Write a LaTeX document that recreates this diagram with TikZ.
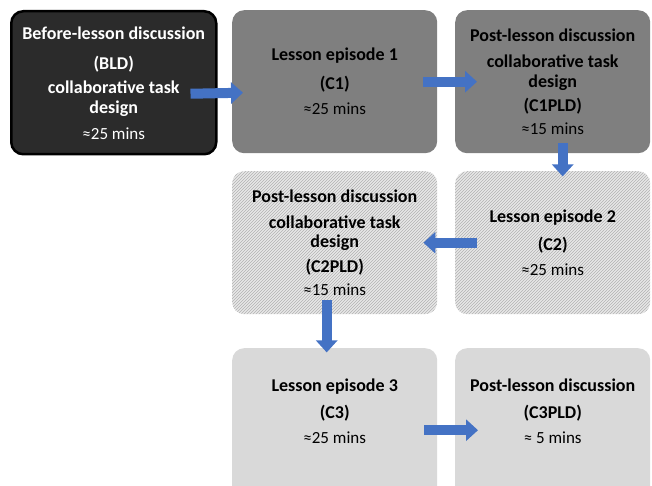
\documentclass[tikz,border=0pt]{standalone}
\usepackage{fontspec}
\setmainfont{Carlito}
\usetikzlibrary{arrows.meta,patterns}

\definecolor{darkbox}{HTML}{2B2B2B}
\definecolor{midbox}{HTML}{7F7F7F}
\definecolor{hatchbg}{HTML}{E8E8E8}
\definecolor{lightbox}{HTML}{D9D9D9}
\definecolor{flowblue}{HTML}{4472C4}

\tikzset{
  stage/.style={rectangle, rounded corners=12pt, minimum width=205pt,
    minimum height=143pt, anchor=north west, align=center, inner sep=0pt,
    font=\fontsize{18}{21}\selectfont\bfseries},
  darkstage/.style={stage, fill=darkbox, draw=black, line width=2.5pt, text=white},
  midstage/.style={stage, fill=midbox},
  hatchstage/.style={stage, fill=hatchbg,
    postaction={pattern=north east lines, pattern color=gray!60}},
  lightstage/.style={stage, fill=lightbox},
  flow/.style={draw=flowblue, line width=10pt,
    -{Triangle[length=12pt,width=21pt,fill=flowblue]}}
}
\newcommand{\mins}[1]{{\fontsize{17}{21}\selectfont\mdseries #1}}

\begin{document}
\begin{tikzpicture}[x=1pt,y=-1pt]
  \useasboundingbox (0,0) rectangle (652,486);

  \node[darkstage] (bld) at (10,10)
    {Before-lesson discussion\\[9pt] (BLD)\\[3pt] collaborative task\\[-1pt] design\\[5pt] \mins{≈25 mins}};
  \node[midstage] (c1) at (232,10)
    {Lesson episode 1\\[8pt] (C1)\\[4pt] \mins{≈25 mins}};
  \node[midstage, minimum width=195pt] (c1pld) at (455,10)
    {Post-lesson discussion\\[5pt] collaborative task\\[-1pt] design\\[3pt] (C1PLD)\\[2pt] \mins{≈15 mins}};

  \node[hatchstage] (c2pld) at (232,171)
    {Post-lesson discussion\\[5pt] collaborative task\\[-2pt] design\\[4pt] (C2PLD)\\[2pt] \mins{≈15 mins}};
  \node[hatchstage, minimum width=195pt] (c2) at (455,171)
    {Lesson episode 2\\[7pt] (C2)\\[4pt] \mins{≈25 mins}};

  \node[lightstage, minimum height=170pt] (c3) at (232,348)
    {Lesson episode 3\\[6pt] (C3)\\[4pt] \mins{≈25 mins}\\[24pt] ~};
  \node[lightstage, minimum width=195pt, minimum height=170pt] (c3pld) at (455,348)
    {Post-lesson discussion\\[6pt] (C3PLD)\\[4pt] \mins{≈ 5 mins}\\[24pt] ~};

  % arrows between the stages
  \draw[flow] ([shift={(-27,11)}]bld.east) -- ([shift={(11,11)}]c1.west);
  \draw[flow] ([shift={(-14,0)}]c1.east) -- ([shift={(22,0)}]c1pld.west);
  \draw[flow] ([shift={(10,-10)}]c1pld.south) -- ([shift={(10,23)}]c1pld.south);
  \draw[flow] ([shift={(22,0)}]c2.west) -- ([shift={(-14,0)}]c2pld.east);
  \draw[flow] ([shift={(-8,-14)}]c2pld.south) -- ([shift={(-8,38)}]c2pld.south);
  \draw[flow] ([shift={(-13,-3)}]c3.east) -- ([shift={(23,-3)}]c3pld.west);
\end{tikzpicture}
\end{document}
